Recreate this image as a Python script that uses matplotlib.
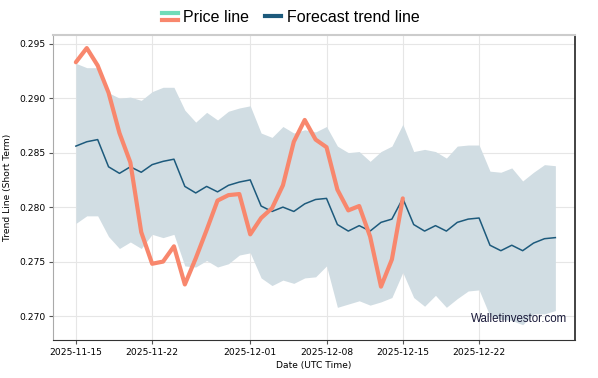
import numpy as np
import pandas as pd
import matplotlib
matplotlib.use("Agg")
import matplotlib.pyplot as plt
import matplotlib.dates as mdates
from matplotlib.lines import Line2D
from matplotlib.legend_handler import HandlerBase

# daily values
price_dates = pd.date_range("2025-11-15", "2025-12-15", freq="D")
price = [0.2933, 0.2946, 0.2930, 0.2905, 0.2868, 0.2841, 0.2777, 0.2748,
         0.2750, 0.2764, 0.2729, 0.2753, 0.2779, 0.2806, 0.2811, 0.2812,
         0.2775, 0.2790, 0.2799, 0.2820, 0.2860, 0.2880, 0.2862, 0.2855,
         0.2816, 0.2797, 0.2801, 0.2773, 0.2727, 0.2752, 0.2808]

trend_dates = pd.date_range("2025-11-15", "2025-12-29", freq="D")
trend = [0.2856, 0.2860, 0.2862, 0.2837, 0.2831, 0.2837, 0.2832, 0.2839,
         0.2842, 0.2844, 0.2819, 0.2813, 0.2819, 0.2814, 0.2820, 0.2823,
         0.2825, 0.2801, 0.2796, 0.2800, 0.2796, 0.2803, 0.2807, 0.2808,
         0.2784, 0.2778, 0.2783, 0.2778, 0.2786, 0.2789, 0.2808, 0.2784,
         0.2778, 0.2783, 0.2778, 0.2786, 0.2789, 0.2790, 0.2765, 0.2760,
         0.2765, 0.2760, 0.2767, 0.2771, 0.2772]
upper = [0.2932, 0.2928, 0.2928, 0.2905, 0.2900, 0.2901, 0.2898, 0.2906,
         0.2910, 0.2910, 0.2889, 0.2878, 0.2887, 0.2880, 0.2888, 0.2891,
         0.2893, 0.2868, 0.2864, 0.2874, 0.2868, 0.2871, 0.2869, 0.2874,
         0.2856, 0.2850, 0.2851, 0.2842, 0.2851, 0.2856, 0.2876, 0.2851,
         0.2853, 0.2851, 0.2845, 0.2856, 0.2857, 0.2857, 0.2833, 0.2832,
         0.2836, 0.2824, 0.2832, 0.2839, 0.2838]
lower = [0.2785, 0.2792, 0.2792, 0.2773, 0.2762, 0.2768, 0.2762, 0.2775,
         0.2772, 0.2775, 0.2746, 0.2745, 0.2751, 0.2745, 0.2748, 0.2756,
         0.2758, 0.2735, 0.2728, 0.2733, 0.2730, 0.2735, 0.2736, 0.2746,
         0.2708, 0.2711, 0.2714, 0.2710, 0.2713, 0.2717, 0.2740, 0.2717,
         0.2709, 0.2719, 0.2708, 0.2716, 0.2723, 0.2724, 0.2700, 0.2697,
         0.2696, 0.2692, 0.2702, 0.2702, 0.2705]

tick_dates = ["2025-11-15", "2025-11-22", "2025-12-01", "2025-12-08",
              "2025-12-15", "2025-12-22"]
y_ticks = [0.270, 0.275, 0.280, 0.285, 0.290, 0.295]

PRICE_COLOR = "#f8876d"
PRICE_TOP = "#6fdcb8"
TREND_COLOR = "#1d5a7c"
BAND_COLOR = "#d1dde3"


class TwoColorHandler(HandlerBase):
    def create_artists(self, legend, orig_handle, x0, y0, width, height, fontsize, trans):
        a = Line2D([x0, x0 + width], [y0 + height * 0.75] * 2, color=PRICE_TOP, lw=3, transform=trans)
        b = Line2D([x0, x0 + width], [y0 + height * 0.2] * 2, color=PRICE_COLOR, lw=3, transform=trans)
        return [a, b]


fig = plt.figure(figsize=(5.98, 3.78), dpi=100)
ax = fig.add_axes([0.0886, 0.1005, 0.8729, 0.8069])

ax.fill_between(trend_dates, lower, upper, color=BAND_COLOR, lw=0, zorder=1)
ax.plot(trend_dates, trend, color=TREND_COLOR, lw=1.1, zorder=3)
ax.plot(price_dates, price, color=PRICE_COLOR, lw=3, zorder=4, solid_capstyle="round")

ax.set_ylim(0.2678, 0.2958)
ax.set_xlim(pd.Timestamp("2025-11-15") - pd.Timedelta(days=2.1),
            pd.Timestamp("2025-11-15") + pd.Timedelta(days=45.8))
ax.set_yticks(y_ticks)
ax.set_yticklabels([f"{v:.3f}" for v in y_ticks])
ax.set_xticks(pd.to_datetime(tick_dates))
ax.xaxis.set_major_formatter(mdates.DateFormatter("%Y-%m-%d"))
ax.tick_params(labelsize=6.6, length=3, color="#555555", pad=2.5)
ax.grid(True, color="#e6e6e6", lw=0.8, zorder=0)
ax.set_axisbelow(True)

ax.spines["top"].set_color("#cccccc")
ax.spines["top"].set_linewidth(1.5)
ax.spines["left"].set_color("#aaaaaa")
ax.spines["right"].set_color("#222222")
ax.spines["right"].set_linewidth(1.2)
ax.spines["bottom"].set_color("#333333")

ax.set_xlabel("Date (UTC Time)", fontsize=6.6, labelpad=3)
ax.set_ylabel("Trend Line (Short Term)", fontsize=6.6, labelpad=5)

ax.text(0.985, 0.048, "Walletinvestor.com", transform=ax.transAxes,
        ha="right", va="bottom", fontsize=8.3, color="#1a1a3a",
        family="Liberation Sans", zorder=5)

handles = [Line2D([], [], color=PRICE_COLOR),
           Line2D([], [], color=TREND_COLOR, lw=3)]
fig.legend(handles, ["Price line", "Forecast trend line"], loc="upper center",
           bbox_to_anchor=(0.486, 1.012), ncol=2, frameon=False,
           prop={"family": "Liberation Sans", "size": 11.5},
           handlelength=1.0, handletextpad=0.35, columnspacing=1.0,
           handler_map={handles[0]: TwoColorHandler()})

fig.savefig("out.png", dpi=100)
